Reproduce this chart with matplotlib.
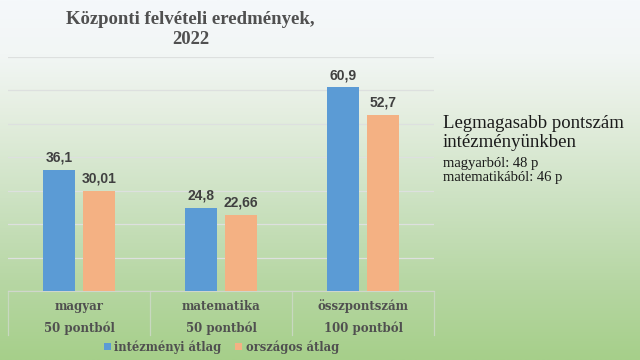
import numpy as np
import matplotlib
matplotlib.use("Agg")
import matplotlib.pyplot as plt
from matplotlib.colors import LinearSegmentedColormap
from matplotlib.lines import Line2D

# data
categories = ["magyar", "matematika", "összpontszám"]
subtitles = ["50 pontból", "50 pontból", "100 pontból"]
intezmenyi = [36.1, 24.8, 60.9]
orszagos = [30.01, 22.66, 52.7]
intezmenyi_labels = ["36,1", "24,8", "60,9"]
orszagos_labels = ["30,01", "22,66", "52,7"]
series_names = ["intézményi átlag", "országos átlag"]

blue = "#5b9bd5"
orange = "#f4b183"
text_gray = "#505050"

fig = plt.figure(figsize=(6.4, 3.6), dpi=100)

# background gradient (white-blue at top to green at bottom)
bg = fig.add_axes([0, 0, 1, 1], zorder=-10)
grad_cmap = LinearSegmentedColormap.from_list("bg", [
    (0.0, "#f5f8fb"), (0.15, "#f2f6f5"), (0.3, "#e6efe2"),
    (0.55, "#cde2c3"), (0.78, "#b7d7a4"), (1.0, "#a6cf8a")])
bg.imshow(np.linspace(0, 1, 256).reshape(-1, 1), aspect="auto", cmap=grad_cmap,
          extent=[0, 1, 0, 1], origin="upper")
bg.set_axis_off()

ax = fig.add_axes([0.0125, 0.1917, 0.666, 0.65])
ax.patch.set_alpha(0)
x = np.arange(len(categories))
w = 0.225
off = 0.14
b1 = ax.bar(x - off, intezmenyi, w, color=blue, zorder=3, label=series_names[0])
b2 = ax.bar(x + off, orszagos, w, color=orange, zorder=3, label=series_names[1])

for bars, labels in [(b1, intezmenyi_labels), (b2, orszagos_labels)]:
    for rect, lab in zip(bars, labels):
        ax.text(rect.get_x() + rect.get_width() / 2, rect.get_height() + 1.6, lab,
                ha="center", va="bottom", fontsize=10, fontweight="bold", color="#404040",
                family="Liberation Sans")

ax.set_xlim(-0.5, 2.5)
ax.set_ylim(0, 70)
ax.set_yticks(np.arange(0, 71, 10))
ax.yaxis.grid(True, color="#dde0df", linewidth=0.9, zorder=0)
ax.tick_params(left=False, labelleft=False, bottom=False, labelbottom=False)
for s in ["top", "right", "left"]:
    ax.spines[s].set_visible(False)
ax.spines["bottom"].set_color("#d0d6cc")

# category axis: separators and two-line labels
trans = ax.get_xaxis_transform()
for xs in [-0.5, 0.5, 1.5, 2.5]:
    ax.add_line(Line2D([xs, xs], [0, -0.19], transform=trans, color="#c8d8c0",
                       linewidth=0.9, clip_on=False))
for xi, cat, sub in zip(x, categories, subtitles):
    ax.text(xi, -0.065, cat, transform=trans, ha="center", va="center",
            fontsize=8.5, fontweight="bold", color=text_gray, family="DejaVu Serif")
    ax.text(xi, -0.16, sub, transform=trans, ha="center", va="center",
            fontsize=8.5, fontweight="bold", color=text_gray, family="DejaVu Serif")

leg = fig.legend(handles=[b1, b2], loc="center", bbox_to_anchor=(0.346, 0.036), ncol=2,
                 frameon=False, handlelength=0.6, handleheight=0.6, handletextpad=0.3,
                 columnspacing=1.2, prop={"family": "DejaVu Serif", "weight": "bold", "size": 8.3})
for t in leg.get_texts():
    t.set_color(text_gray)

fig.text(0.298, 0.918, "Központi felvételi eredmények,\n2022", ha="center", va="center",
         fontsize=13.5, fontweight="bold", color=text_gray, family="Liberation Serif",
         linespacing=1.3)

fig.text(0.692, 0.63, "Legmagasabb pontszám\nintézményünkben", ha="left", va="center",
         fontsize=13.5, color="#1a1a1a", family="Liberation Serif", linespacing=1.15)
fig.text(0.692, 0.527, "magyarból: 48 p\nmatematikából: 46 p", ha="left", va="center",
         fontsize=10.5, color="#1a1a1a", family="Liberation Serif", linespacing=1.1)

fig.savefig("out.png", dpi=100)
